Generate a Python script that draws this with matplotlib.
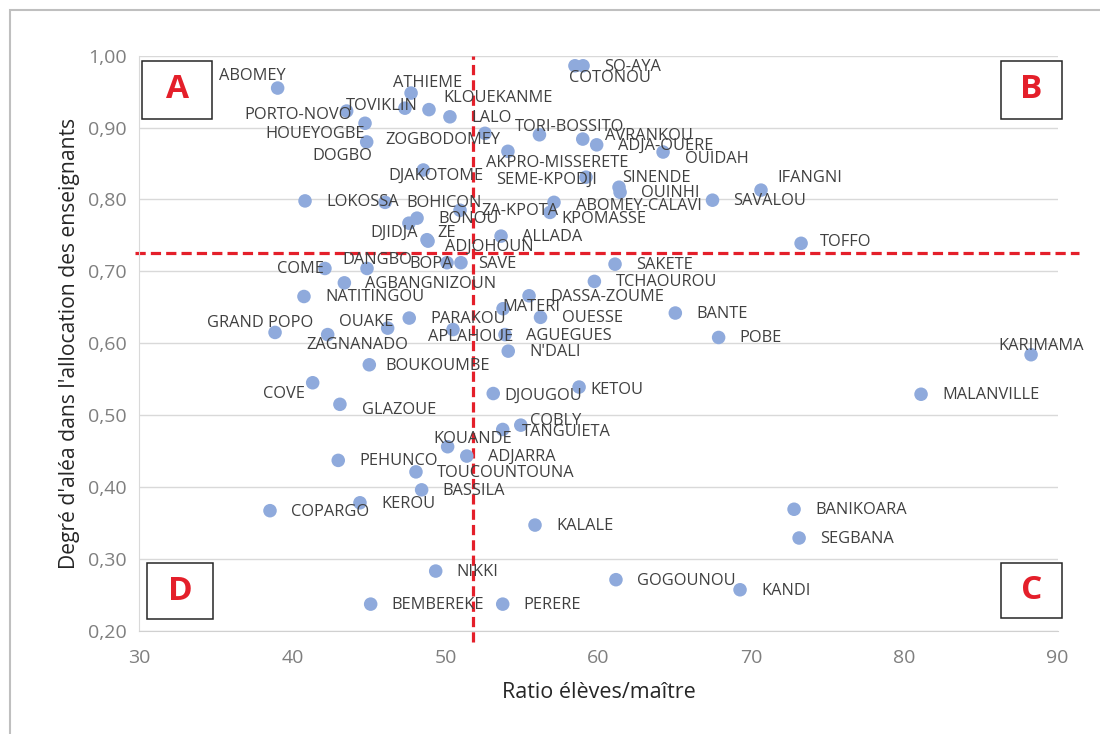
import matplotlib
matplotlib.use("Agg")
import matplotlib.pyplot as plt
from matplotlib.patches import Rectangle
from matplotlib.ticker import FuncFormatter, MultipleLocator

plt.rcParams['font.family'] = ['Open Sans', 'DejaVu Sans']

communes = ['ABOMEY', 'ATHIEME', 'TOVIKLIN', 'KLOUEKANME', 'LALO', 'PORTO-NOVO',
            'HOUEYOGBE', 'DOGBO', 'ZOGBODOMEY', 'AKPRO-MISSERETE', 'TORI-BOSSITO',
            'AVRANKOU', 'ADJA-OUERE', 'OUIDAH', 'SO-AYA', 'COTONOU', 'DJAKOTOME',
            'SEME-KPODJI', 'SINENDE', 'OUINHI', 'IFANGNI', 'SAVALOU', 'LOKOSSA',
            'BOHICON', 'ZA-KPOTA', 'ABOMEY-CALAVI', 'KPOMASSE', 'BONOU', 'DJIDJA',
            'ZE', 'ADJOHOUN', 'ALLADA', 'TOFFO', 'DANGBO', 'COME', 'BOPA', 'SAVE',
            'SAKETE', 'TCHAOUROU', 'AGBANGNIZOUN', 'NATITINGOU', 'DASSA-ZOUME',
            'MATERI', 'BANTE', 'OUESSE', 'PARAKOU', 'OUAKE', 'APLAHOUE',
            'GRAND POPO', 'ZAGNANADO', 'AGUEGUES', 'POBE', "N'DALI", 'KARIMAMA',
            'BOUKOUMBE', 'COVE', 'KETOU', 'DJOUGOU', 'MALANVILLE', 'GLAZOUE',
            'COBLY', 'TANGUIETA', 'KOUANDE', 'ADJARRA', 'PEHUNCO', 'TOUCOUNTOUNA',
            'BASSILA', 'KEROU', 'COPARGO', 'BANIKOARA', 'KALALE', 'SEGBANA',
            'NIKKI', 'GOGOUNOU', 'KANDI', 'BEMBEREKE', 'PERERE']

ratio = [39.03, 47.75, 47.35, 48.92, 50.29, 43.54, 44.74, 44.85, 52.58, 54.08,
         56.14, 58.97, 59.88, 64.22, 58.99, 58.46, 48.55, 59.18, 61.34, 61.41,
         70.62, 67.45, 40.82, 46.05, 50.95, 57.09, 56.83, 48.14, 47.61, 48.79,
         48.86, 53.63, 73.24, 44.87, 42.12, 50.10, 51.01, 61.08, 59.73, 43.39,
         40.75, 55.46, 53.76, 65.02, 56.21, 47.63, 46.22, 50.49, 38.86, 42.30,
         53.89, 67.85, 54.10, 88.27, 45.02, 41.32, 58.73, 53.12, 81.08, 43.10,
         54.92, 53.74, 50.14, 51.39, 42.99, 48.07, 48.44, 44.41, 38.53, 72.78,
         55.85, 73.11, 49.36, 61.14, 69.25, 45.11, 53.74]

alea = [0.955, 0.948, 0.927, 0.925, 0.915, 0.923, 0.906, 0.880, 0.892, 0.867,
        0.890, 0.884, 0.876, 0.866, 0.986, 0.986, 0.841, 0.831, 0.817, 0.810,
        0.813, 0.799, 0.798, 0.796, 0.785, 0.796, 0.782, 0.774, 0.767, 0.744,
        0.742, 0.749, 0.739, 0.704, 0.704, 0.712, 0.712, 0.710, 0.686, 0.684,
        0.665, 0.666, 0.648, 0.642, 0.636, 0.635, 0.621, 0.619, 0.615, 0.612,
        0.612, 0.608, 0.589, 0.584, 0.570, 0.545, 0.539, 0.530, 0.529, 0.515,
        0.486, 0.480, 0.456, 0.443, 0.437, 0.421, 0.396, 0.378, 0.367, 0.369,
        0.347, 0.329, 0.283, 0.271, 0.257, 0.237, 0.237]

seuil_ratio = 51.8
seuil_alea = 0.7255

# label placement (pixels from the point: dx, dy downwards, alignment)
default_pos = (21, 1, 'left')
label_pos = {
    'ABOMEY': (8, -12, 'right'), 'ATHIEME': (16, -10, 'center'),
    'TOVIKLIN': (13, -2, 'right'), 'KLOUEKANME': (14, -12, 'left'),
    'PORTO-NOVO': (5, 4, 'right'), 'HOUEYOGBE': (0, 11, 'right'),
    'DOGBO': (6, 14, 'right'), 'ZOGBODOMEY': (15, 7, 'right'),
    'AKPRO-MISSERETE': (-22, 12, 'left'), 'TORI-BOSSITO': (-25, -8, 'left'),
    'AVRANKOU': (22, -3, 'left'), 'OUIDAH': (22, 7, 'left'),
    'COTONOU': (-6, 12, 'left'), 'DJAKOTOME': (-35, 6, 'left'),
    'SEME-KPODJI': (11, 3, 'right'), 'SINENDE': (3, -9, 'left'),
    'IFANGNI': (16, -12, 'left'), 'ABOMEY-CALAVI': (22, 4, 'left'),
    'KPOMASSE': (11, 7, 'left'), 'DJIDJA': (9, 10, 'right'),
    'ZE': (10, -7, 'left'), 'ADJOHOUN': (17, 6, 'left'),
    'TOFFO': (19, -1, 'left'), 'DANGBO': (-25, -8, 'left'),
    'COME': (-1, 1, 'right'), 'BOPA': (6, 1, 'right'),
    'SAVE': (17, 1, 'left'), 'MATERI': (-1, -2, 'left'),
    'OUAKE': (6, -6, 'right'), 'APLAHOUE': (-25, 7, 'left'),
    'GRAND POPO': (38, -9, 'right'), 'ZAGNANADO': (-21, 10, 'left'),
    'KARIMAMA': (10, -9, 'center'), 'BOUKOUMBE': (16, 1, 'left'),
    'COVE': (-8, 11, 'right'), 'KETOU': (11, 3, 'left'),
    'DJOUGOU': (11, 2, 'left'), 'GLAZOUE': (22, 6, 'left'),
    'COBLY': (9, -4, 'left'), 'TANGUIETA': (19, 3, 'left'),
    'KOUANDE': (-14, -8, 'left'),
}

fig = plt.figure(figsize=(11, 7.34), dpi=100)
ax = fig.add_axes([0.1268, 0.1407, 0.8346, 0.7834])

ax.scatter(ratio, alea, s=95, color='#8FAADC', edgecolors='none', zorder=3)

for name, x, y in zip(communes, ratio, alea):
    dx, dy, ha = label_pos.get(name, default_pos)
    ax.annotate(name, (x, y), xytext=(dx, -dy), textcoords='offset pixels',
                ha=ha, va='center', fontsize=11.8, color='#404040', zorder=4,
                annotation_clip=False)

red = '#E41F2A'
ax.axvline(seuil_ratio, ymin=-0.02, ymax=1.0, color=red, lw=2.3,
           linestyle=(0, (3.2, 1.6)), clip_on=False, zorder=2)
ax.axhline(seuil_alea, xmin=-0.005, xmax=1.023, color=red, lw=2.3,
           linestyle=(0, (3.2, 1.6)), clip_on=False, zorder=2)

ax.set_xlim(30, 90)
ax.set_ylim(0.2, 1.0)
ax.xaxis.set_major_locator(MultipleLocator(10))
ax.yaxis.set_major_locator(MultipleLocator(0.1))
ax.yaxis.set_major_formatter(FuncFormatter(lambda v, p: f'{v:.2f}'.replace('.', ',')))
ax.yaxis.grid(True, color='#D9D9D9', lw=1)
ax.set_axisbelow(True)
for s in ['top', 'right']:
    ax.spines[s].set_visible(False)
ax.spines['left'].set_color('#D9D9D9')
ax.spines['bottom'].set_color('#D0D0D0')
ax.tick_params(axis='both', length=0, labelsize=14, colors='#7F7F7F')
ax.tick_params(axis='x', pad=13)
ax.tick_params(axis='y', pad=9)

fig.text(598.5 / 1100, 1 - 692 / 734, 'Ratio élèves/maître', ha='center',
         va='center', fontsize=15.5, color='#262626')
fig.text(70 / 1100, 1 - 343 / 734, "Degré d'aléa dans l'allocation des enseignants",
         ha='center', va='center', rotation=90, fontsize=15.2, color='#262626')


def quadrant(x0, y0, x1, y1, letter):
    W, H = 1100.0, 734.0
    fig.patches.append(Rectangle((x0 / W, 1 - y1 / H), (x1 - x0) / W, (y1 - y0) / H,
                                 transform=fig.transFigure, facecolor='white',
                                 edgecolor='#262626', lw=1.1, zorder=5))
    fig.text((x0 + x1) / 2 / W, 1 - (y0 + y1) / 2 / H, letter, ha='center',
             va='center', fontsize=24, fontweight='bold', color=red, zorder=6)


quadrant(142, 61, 212, 119, 'A')
quadrant(1001, 61, 1062, 119, 'B')
quadrant(1001, 563, 1062, 618, 'C')
quadrant(147, 563, 213, 619, 'D')

# outer frame of the chart object
fig.patches.append(Rectangle((10 / 1100, -0.1), 1.2, 1.1 - 10 / 734,
                             transform=fig.transFigure, fill=False,
                             edgecolor='#BFBFBF', lw=1.5))

fig.savefig('out.png', dpi=100)
